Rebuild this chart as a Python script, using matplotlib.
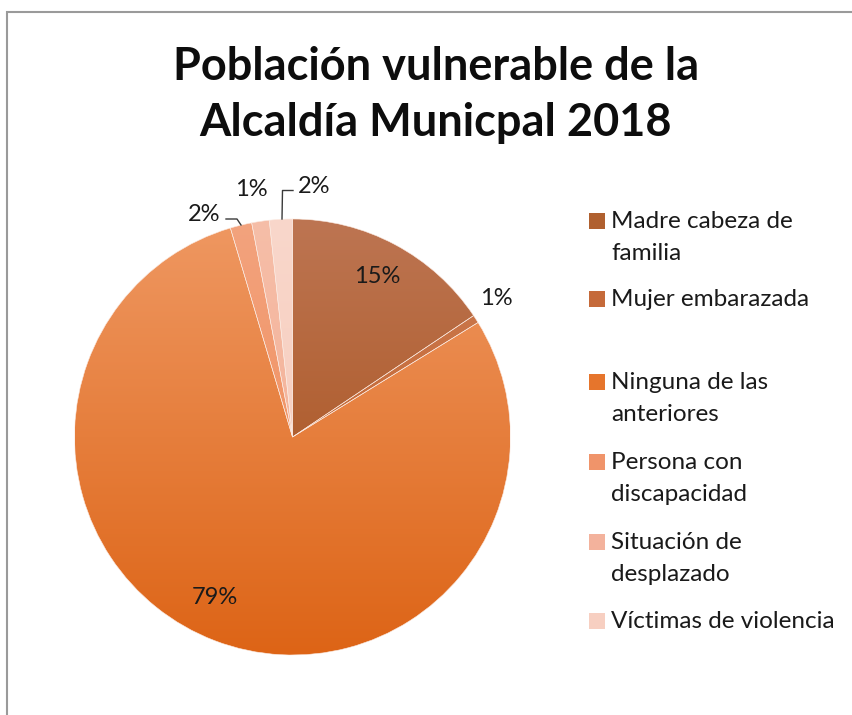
import numpy as np
import matplotlib
matplotlib.use("Agg")
import matplotlib.pyplot as plt
from matplotlib.colors import LinearSegmentedColormap, to_rgb
from matplotlib.patches import Rectangle

categories = ["Madre cabeza de\nfamilia", "Mujer embarazada", "Ninguna de las\nanteriores",
              "Persona con\ndiscapacidad", "Situación de\ndesplazado", "Víctimas de violencia"]
values = [15.6, 0.6, 79.2, 1.6, 1.3, 1.7]
pct_labels = ["15%", "1%", "79%", "2%", "1%", "2%"]
title = "Población vulnerable de la\nAlcaldía Municpal 2018"

top_colors = ["#bd7552", "#cc7d55", "#ef9862", "#f3a37e", "#f6bea8", "#f9d7cb"]
bot_colors = ["#a44a10", "#c0581a", "#dd6416", "#ee8650", "#f2a98e", "#f5c7b6"]

W, H = 852, 715
fig = plt.figure(figsize=(W / 100, H / 100), dpi=100)
plt.rcParams['font.family'] = ['Lato', 'DejaVu Sans']

cx, cy, R = 292.5, 437, 218
ax = fig.add_axes([(cx - R) / W, (H - cy - R) / H, 2 * R / W, 2 * R / H])
wedges, _ = ax.pie(values, startangle=90, counterclock=False, radius=1,
                   wedgeprops=dict(edgecolor="#fbe9e0", linewidth=0.4))
ax.set_xlim(-1, 1)
ax.set_ylim(-1, 1)
ax.set_aspect("equal")
ax.axis("off")

# gradient fill per slice
grad = np.linspace(0, 1, 256).reshape(-1, 1)
for w, tc, bc in zip(wedges, top_colors, bot_colors):
    cmap = LinearSegmentedColormap.from_list("g", [to_rgb(tc), to_rgb(bc)])
    w.set_facecolor("none")
    im = ax.imshow(grad, cmap=cmap, extent=[-1, 1, -1, 1], origin="upper",
                   aspect="auto", zorder=0.5)
    im.set_clip_path(w)
    w.set_zorder(1)

# percent labels: (angle offset in deg, radius)
label_adj = [(0.3, 0.83), (1.5, 1.13), (-5, 0.82), (8, 1.10), (1, 1.149), (-8, 1.155)]
for w, lab, (da, rr) in zip(wedges, pct_labels, label_adj):
    mid = np.deg2rad((w.theta1 + w.theta2) / 2 + da)
    ax.text(rr * np.cos(mid), rr * np.sin(mid), lab, ha="center", va="center",
            fontsize=17, color="#1a1a1a")

# leader lines for two small slices
def px(x, y):
    return ((x - cx) / R, (cy - y) / R)
for pts in [[(226, 219), (237, 219), (241, 225)],
            [(293, 190.5), (282.5, 190.5), (282, 219)]]:
    xs, ys = zip(*[px(*p) for p in pts])
    ax.plot(xs, ys, color="#3a3a3a", lw=1, clip_on=False)

# title
fig.text(436 / W, 1 - 95 / H, title, ha="center", va="center", fontsize=32.5,
         fontweight="bold", linespacing=1.42, color="#0d0d0d")

# legend
leg_y = [221, 299, 382, 462, 542, 621]
mid_colors = ["#b0602f", "#c56a3a", "#e6752c", "#f0946a", "#f3b29c", "#f7cfc1"]
for name, y, c in zip(categories, leg_y, mid_colors):
    fig.patches.append(Rectangle((589 / W, 1 - (y + 8) / H), 16 / W, 16 / H,
                                 transform=fig.transFigure, facecolor=c, edgecolor="none"))
    fig.text(611 / W, 1 - (y - 10) / H, name, ha="left", va="top", fontsize=17.5,
             linespacing=1.62, color="#1a1a1a")

# frame
fig.patches.append(Rectangle((6.5 / W, -0.1), 1.2, 1.1 - 11.5 / H,
                             transform=fig.transFigure, facecolor="none",
                             edgecolor="#9a9a9a", linewidth=1.5))

fig.savefig("out.png", dpi=100)
